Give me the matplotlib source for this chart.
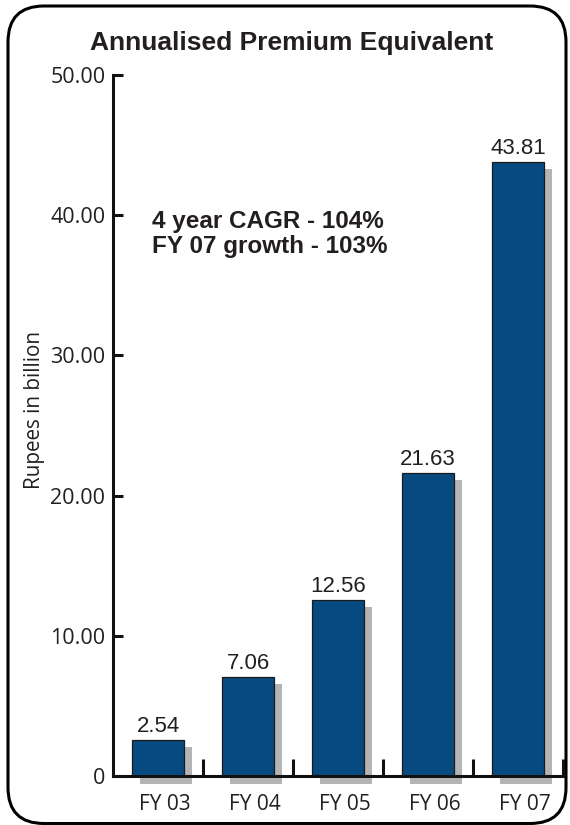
import matplotlib.pyplot as plt
from matplotlib.patches import FancyBboxPatch, Rectangle
from matplotlib.ticker import FixedLocator
import matplotlib.transforms as mtransforms

years = ['FY 03', 'FY 04', 'FY 05', 'FY 06', 'FY 07']
ape = [2.54, 7.06, 12.56, 21.63, 43.81]
ytick_values = [0, 10, 20, 30, 40, 50]
ytick_labels = ['0', '10.00', '20.00', '30.00', '40.00', '50.00']
note_lines = ['4 year CAGR - 104%', 'FY 07 growth - 103%']

bar_color = '#074a80'
shadow_color = '#b4b4b7'
ink = '#231f20'
tick_font = 'Open Sans'
value_font = 'Liberation Sans'

fig = plt.figure(figsize=(5.7, 8.25), dpi=100)

# rounded frame around the whole panel, drawn in pixel units
bg = fig.add_axes([0, 0, 1, 1], zorder=-1)
bg.set_xlim(0, 570)
bg.set_ylim(825, 0)
bg.axis('off')
bg.add_patch(FancyBboxPatch((8, 6), 558, 817.5,
                            boxstyle='round,pad=0,rounding_size=36',
                            fc='white', ec='black', lw=2.2))

ax = fig.add_axes([113 / 570, 49 / 825, 450 / 570, 701 / 825])
ax.patch.set_alpha(0)
ax.set_xlim(-0.5, 4.5)
ax.set_ylim(0, 50)

bw = 0.57
dx = 8 / 90.0      # shadow shift, right
dy = 7 * 50 / 701.0  # shadow shift, down
below = 8 * 50 / 701.0  # shadow hangs under the axis line
for i, v in enumerate(ape):
    ax.add_patch(Rectangle((i - bw / 2 + dx, -below), bw, v - dy + below,
                           fc=shadow_color, ec='none', zorder=1, clip_on=False))
ax.bar(range(len(years)), ape, width=bw, color=bar_color, edgecolor='#1a1a1a',
       linewidth=0.9, zorder=2)
for i, v in enumerate(ape):
    ax.annotate(f'{v:.2f}', (i, v), xytext=(0, 5.8), textcoords='offset points',
                ha='center', va='baseline', fontsize=16, color=ink,
                family=value_font)

for s in ['top', 'right']:
    ax.spines[s].set_visible(False)
for s in ['left', 'bottom']:
    ax.spines[s].set_linewidth(2.2)
    ax.spines[s].set_color('#111111')
    ax.spines[s].set_zorder(3)

ax.set_yticks(ytick_values)
ax.set_yticklabels(ytick_labels, family=tick_font, fontsize=15.5, color=ink)
ax.tick_params(axis='y', direction='in', length=7, width=2.2, color='#111111', pad=5.5)

ax.set_xticks(range(len(years)))
ax.set_xticklabels(years, family=tick_font, fontsize=15, color=ink)
ax.xaxis.set_minor_locator(FixedLocator([0.5, 1.5, 2.5, 3.5, 4.5]))
ax.tick_params(axis='x', which='major', length=0, pad=13)
ax.tick_params(axis='x', which='minor', direction='in', length=12, width=2.2,
               color='#111111')
shift = mtransforms.ScaledTranslation(7 / 100, 0, fig.dpi_scale_trans)
for lbl in ax.get_xticklabels():
    lbl.set_transform(lbl.get_transform() + shift)

ax.text(-0.067, 39.09, note_lines[0], fontsize=17.5, fontweight='bold',
        family=value_font, color=ink, va='baseline')
ax.text(-0.067, 37.3, note_lines[1], fontsize=17.5, fontweight='bold',
        family=value_font, color=ink, va='baseline')

fig.text(292 / 570, 1 - 50 / 825, 'Annualised Premium Equivalent', ha='center',
         va='baseline', fontsize=19, fontweight='bold', family=value_font, color=ink)
fig.text(35 / 570, 1 - 410 / 825, 'Rupees in billion', rotation=90, ha='center',
         va='center', fontsize=14.9, family=tick_font, color=ink)

fig.savefig('out.png', dpi=100)
